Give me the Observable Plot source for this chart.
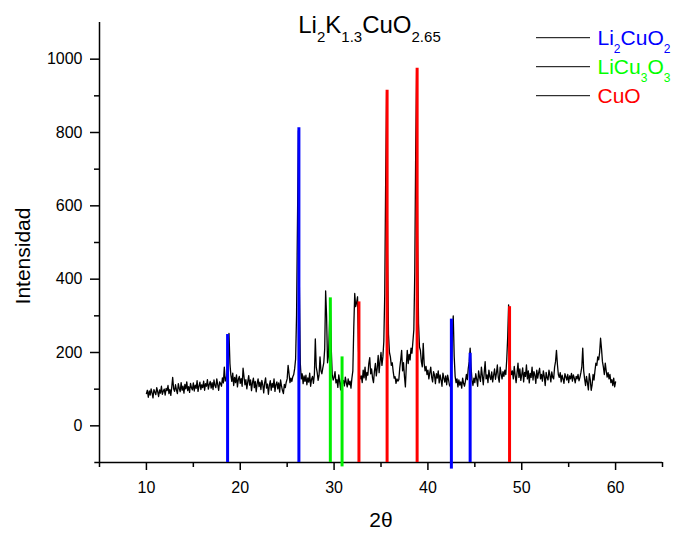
<!DOCTYPE html>
<html><head><meta charset="utf-8">
<script src="https://cdn.jsdelivr.net/npm/d3@7"></script>
<script src="https://cdn.jsdelivr.net/npm/@observablehq/plot@0.6"></script>
<style>
html,body{margin:0;padding:0;background:#fff;}
#chart{width:676px;height:533px;}
</style></head><body><div id="chart"></div>
<script>
// XRD scan: 2θ from 10 to 60 in steps of 0.1°, intensities
const scanStart = 10, scanStep = 0.1;
const intensity = [
  88, 97, 78, 95, 84, 101, 90, 76, 99, 92,        // 10
  85, 104, 93, 80, 98, 89, 108, 86, 95, 100,      // 11
  84, 102, 96, 110, 88, 99, 83, 106, 132, 101,    // 12
  94, 112, 98, 88, 115, 102, 93, 118, 97, 108,    // 13
  89, 113, 101, 120, 96, 107, 91, 116, 104, 98,   // 14
  117, 95, 111, 102, 123, 94, 108, 119, 99, 112,  // 15
  104, 122, 97, 115, 108, 126, 100, 113, 121, 103,// 16
  118, 99, 125, 110, 104, 128, 112, 97, 120, 115, // 17
  108, 131, 117, 160, 122, 128, 145, 205, 252, 170,// 18
  138, 121, 144, 110, 132, 118, 139, 106, 127, 135,// 19
  116, 129, 108, 157, 134, 112, 126, 101, 120, 137,// 20
  111, 125, 96, 118, 130, 104, 121, 93, 115, 128, // 21
  107, 119, 99, 124, 112, 90, 117, 131, 103, 114, // 22
  86, 110, 123, 97, 116, 105, 128, 94, 112, 120,  // 23
  101, 117, 92, 125, 108, 96, 88, 113, 104, 119,  // 24
  128, 165, 142, 118, 130, 121, 134, 140, 156, 182,// 25
  300, 560, 805, 380, 170, 128, 142, 115, 136, 121,// 26
  138, 112, 131, 119, 144, 108, 127, 135, 116, 140,// 27
  237, 160, 145, 124, 138, 188, 150, 142, 158, 172,// 28
  210, 368, 300, 172, 190, 270, 345, 210, 140, 125,// 29
  132, 148, 117, 126, 105, 139, 120, 98, 131, 115,// 30
  124, 109, 133, 118, 106, 128, 112, 122, 103, 130,// 31
  150, 270, 361, 325, 336, 352, 210, 140, 128, 136,// 32
  118, 152, 131, 160, 125, 146, 138, 170, 186, 142,// 33
  155, 130, 118, 149, 170, 136, 158, 192, 145, 176,// 34
  200, 165, 188, 230, 360, 680, 912, 470, 250, 200,// 35
  188, 165, 172, 148, 130, 134, 116, 128, 122, 126,// 36
  158, 180, 206, 150, 172, 135, 106, 165, 206, 170,// 37
  195, 180, 212, 198, 230, 262, 420, 760, 972, 520,// 38
  280, 215, 206, 175, 161, 225, 170, 150, 162, 140,// 39
  152, 128, 145, 160, 133, 120, 148, 138, 115, 142,// 40
  130, 150, 117, 139, 125, 108, 144, 131, 119, 136,// 41
  112, 138, 125, 110, 106, 150, 250, 300, 190, 135,// 42
  118, 128, 106, 125, 111, 120, 103, 130, 116, 108,// 43
  122, 140, 126, 157, 175, 212, 160, 124, 110, 130,// 44
  118, 142, 127, 108, 150, 133, 121, 160, 137, 112,// 45
  145, 175, 128, 139, 118, 152, 134, 126, 147, 120,// 46
  138, 155, 127, 143, 166, 132, 119, 160, 142, 128,// 47
  148, 135, 152, 140, 180, 240, 330, 240, 155, 140,// 48
  150, 128, 162, 137, 118, 145, 171, 132, 155, 124,// 49
  140, 158, 120, 146, 135, 166, 128, 150, 117, 143,// 50
  132, 160, 125, 148, 138, 116, 152, 130, 145, 157,// 51
  128, 140, 122, 150, 135, 110, 146, 131, 125, 152,// 52
  138, 120, 147, 132, 128, 160, 175, 206, 168, 140,// 53
  132, 145, 120, 138, 128, 116, 142, 134, 125, 140,// 54
  118, 136, 128, 143, 122, 139, 130, 117, 135, 128,// 55
  140, 123, 132, 145, 160, 212, 150, 128, 110, 135,// 56
  118, 98, 142, 126, 97, 112, 140, 125, 150, 171, // 57
  165, 188, 180, 200, 239, 210, 175, 160, 140, 171,// 58
  150, 133, 145, 128, 140, 118, 126, 110, 130, 106,// 59
  120                                              // 60
];

// Reference peak positions (sticks)
const li2cuo2Pos  = [18.65, 26.25, 42.5, 44.5];
const li2cuo2Int  = [249, 813, 291, 198];
const li2cuo2Base = [-100, -100, -118, -100];
const licu3o3Pos  = [29.6, 30.85];
const licu3o3Int  = [349, 188];
const licu3o3Base = [-100, -112];
const cuoPos      = [32.65, 35.65, 38.85, 48.7];
const cuoInt      = [338, 915, 975, 325];
const cuoBase     = [-100, -100, -100, -100];

const yMajor = [0, 200, 400, 600, 800, 1000];
const yMinor = [100, 300, 500, 700, 900];
const xMajor = [10, 20, 30, 40, 50, 60];
const xMinor = [5, 15, 25, 35, 45, 55, 65];

const titleParts = [["Li", 0], ["2", 1], ["K", 0], ["1.3", 1], ["CuO", 0], ["2.65", 1]];
const legendItems = [
  {parts: [["Li", 0], ["2", 1], ["CuO", 0], ["2", 1]], color: "#0000ff"},
  {parts: [["LiCu", 0], ["3", 1], ["O", 0], ["3", 1]], color: "#00ff00"},
  {parts: [["CuO", 0]], color: "#ff0000"}
];
const xLabel = "2θ";
const yLabel = "Intensidad";

const trace = intensity.map((v, i) => ({x: scanStart + i * scanStep, y: v}));
const sticks = (pos, h, b) => pos.map((p, i) => ({x: p, h: h[i], b: b[i]}));

const font = '"Liberation Sans", Arial, sans-serif';
const plot = Plot.plot({
  width: 676, height: 533,
  marginLeft: 99, marginRight: 14, marginTop: 22, marginBottom: 71,
  x: {domain: [5, 65]},
  y: {domain: [-100, 1100]},
  style: {fontFamily: font, fontSize: "16px", color: "#000", background: "#fff", overflow: "visible"},
  marks: [
    Plot.axisY(yMajor, {tickSize: 9, tickPadding: 8, tickFormat: d => String(d), label: null, strokeWidth: 1.5, fontSize: 16}),
    Plot.axisY(yMinor, {tickSize: 5, tickFormat: () => "", label: null, strokeWidth: 1.5}),
    Plot.axisX(xMajor, {tickSize: 8, tickPadding: 11, tickFormat: d => String(d), label: null, strokeWidth: 1.5, fontSize: 16}),
    Plot.axisX(xMinor, {tickSize: 5, tickFormat: () => "", label: null, strokeWidth: 1.5}),
    Plot.ruleX([5], {stroke: "#000", strokeWidth: 1.5}),
    Plot.ruleY([-100], {x1: 4.5, x2: 65, stroke: "#000", strokeWidth: 1.5}),
    Plot.line(trace, {x: "x", y: "y", stroke: "#000", strokeWidth: 1.3}),
    Plot.ruleX(sticks(li2cuo2Pos, li2cuo2Int, li2cuo2Base), {x: "x", y1: "b", y2: "h", stroke: "#0000ff", strokeWidth: 3}),
    Plot.ruleX(sticks(licu3o3Pos, licu3o3Int, licu3o3Base), {x: "x", y1: "b", y2: "h", stroke: "#00ee00", strokeWidth: 3}),
    Plot.ruleX(sticks(cuoPos, cuoInt, cuoBase), {x: "x", y1: "b", y2: "h", stroke: "#ff0000", strokeWidth: 3})
  ]
});
document.getElementById("chart").appendChild(plot);

const svg = d3.select(plot);
function richText(x, y, parts, size, subSize, subShift, anchor, fill) {
  const t = svg.append("text").attr("x", x).attr("y", y)
    .attr("text-anchor", anchor).attr("fill", fill)
    .style("font-size", size + "px").style("font-family", font);
  let cur = 0;
  parts.forEach(([s, sub]) => {
    const target = sub ? subShift : 0;
    t.append("tspan").attr("dy", target - cur)
      .style("font-size", (sub ? subSize : size) + "px").text(s);
    cur = target;
  });
}
richText(369.5, 33.3, titleParts, 24, 15, 9, "middle", "#000");

const legendY = [37.7, 66.7, 95.7];
legendItems.forEach((it, i) => {
  svg.append("line").attr("x1", 536).attr("x2", 590)
    .attr("y1", legendY[i]).attr("y2", legendY[i])
    .attr("stroke", "#000").attr("stroke-width", 1);
  richText(597.5, legendY[i] + 7.5, it.parts, 21, 12, 8, "start", it.color);
});

svg.append("text").attr("x", 381).attr("y", 527).attr("text-anchor", "middle")
  .style("font-size", "21px").style("font-family", font).attr("fill", "#000").text(xLabel);
svg.append("text").attr("transform", "translate(30,256) rotate(-90)").attr("text-anchor", "middle")
  .style("font-size", "21px").style("font-family", font).attr("fill", "#000").text(yLabel);
</script>
</body></html>
